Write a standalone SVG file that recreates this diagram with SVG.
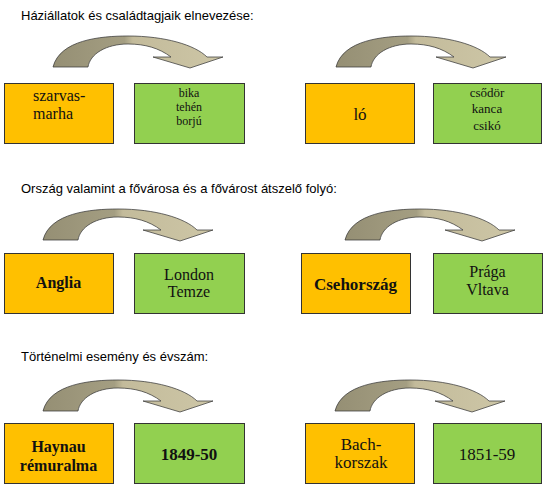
<svg xmlns="http://www.w3.org/2000/svg" width="550" height="495" viewBox="0 0 550 495">
<style>
.title{font-family:"Liberation Sans",Arial,sans-serif;font-size:13px;fill:#000}
.org{fill:#FFC000;stroke:#333;stroke-width:1}
.grn{fill:#92D050;stroke:#333;stroke-width:1}
.t{font-family:"Liberation Serif","Times New Roman",serif;fill:#111;text-anchor:middle}
.b{font-weight:bold}
.arr{fill:url(#ag);stroke:#3a3a3a;stroke-width:0.75}
</style>
<defs>
<linearGradient id="ag" x1="0" y1="0" x2="1" y2="0">
<stop offset="0" stop-color="#958f74"/>
<stop offset="0.42" stop-color="#a49e82"/>
<stop offset="0.47" stop-color="#c3bb9b"/>
<stop offset="1" stop-color="#cdc6a6"/>
</linearGradient>
<path id="carrow" class="arr" d="M0,0 C7,-27 47,-31 75,-31 C112,-31 142,-22 154,-10 L170,-10 L137,1 L100,-10 L118,-10 C106,-19 92,-23 75,-23 C53,-23 37,-13 35,0 Z"/>
</defs>

<text class="title" x="21" y="20">Háziállatok és családtagjaik elnevezése:</text>
<text class="title" x="21" y="193">Ország valamint a fővárosa és a fővárost átszelő folyó:</text>
<text class="title" x="21" y="361">Történelmi esemény és évszám:</text>

<g id="connectors">
<use href="#carrow" x="53" y="67"/>
<use href="#carrow" x="336" y="67"/>
<use href="#carrow" x="43" y="240"/>
<use href="#carrow" x="345" y="240"/>
<use href="#carrow" x="43" y="411"/>
<use href="#carrow" x="335" y="411"/>
</g>

<g id="szarvasmarha">
<rect class="org" x="4.5" y="83.5" width="109" height="60"/>
<text class="t" style="text-anchor:start" x="33" y="101" font-size="16">szarvas-</text>
<text class="t" style="text-anchor:start" x="33" y="119" font-size="16">marha</text>
</g>
<g id="bika">
<rect class="grn" x="134.5" y="83.5" width="110" height="60"/>
<text class="t" x="189" y="97" font-size="12">bika</text>
<text class="t" x="189" y="111" font-size="12">tehén</text>
<text class="t" x="189" y="125" font-size="12">borjú</text>
</g>
<g id="lo">
<rect class="org" x="305.5" y="83.5" width="109" height="60"/>
<text class="t" x="360" y="120" font-size="17">ló</text>
</g>
<g id="csodor">
<rect class="grn" x="433.5" y="83.5" width="108" height="60"/>
<text class="t" x="487" y="97" font-size="13">csődör</text>
<text class="t" x="487" y="113" font-size="13">kanca</text>
<text class="t" x="487" y="130" font-size="13">csikó</text>
</g>

<g id="anglia">
<rect class="org" x="4.5" y="253.5" width="109" height="60"/>
<text class="t b" x="58.5" y="288" font-size="16">Anglia</text>
</g>
<g id="london">
<rect class="grn" x="134.5" y="253.5" width="110" height="60"/>
<text class="t" x="189" y="280" font-size="16">London</text>
<text class="t" x="189" y="297" font-size="16">Temze</text>
</g>
<g id="csehorszag">
<rect class="org" x="301.5" y="253.5" width="109" height="60"/>
<text class="t b" x="355.5" y="290" font-size="17">Csehország</text>
</g>
<g id="praga">
<rect class="grn" x="433.5" y="253.5" width="109" height="60"/>
<text class="t" x="487.5" y="277" font-size="16">Prága</text>
<text class="t" x="487.5" y="295" font-size="16">Vltava</text>
</g>

<g id="haynau">
<rect class="org" x="4.5" y="423.5" width="109" height="60"/>
<text class="t b" x="58.5" y="452" font-size="16">Haynau</text>
<text class="t b" x="58.5" y="471" font-size="16">rémuralma</text>
</g>
<g id="y1849">
<rect class="grn" x="134.5" y="423.5" width="110" height="60"/>
<text class="t b" x="189" y="460" font-size="17">1849-50</text>
</g>
<g id="bach">
<rect class="org" x="305.5" y="423.5" width="109" height="60"/>
<text class="t" x="361" y="450" font-size="17">Bach-</text>
<text class="t" x="361" y="468" font-size="17">korszak</text>
</g>
<g id="y1851">
<rect class="grn" x="433.5" y="423.5" width="108" height="60"/>
<text class="t" x="487" y="460" font-size="17">1851-59</text>
</g>
</svg>
